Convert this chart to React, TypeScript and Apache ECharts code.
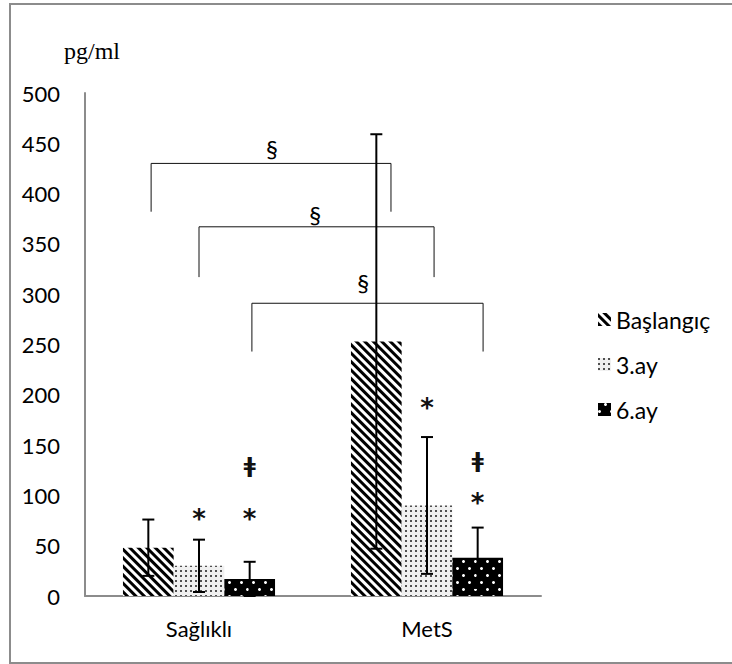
import React, { useEffect, useRef } from 'react';
import * as echarts from 'echarts';

const categories = ['Sağlıklı', 'MetS'];
const seriesNames = ['Başlangıç', '3.ay', '6.ay'];
const baslangic = [48, 253];
const ay3 = [30, 90];
const ay6 = [17, 38];
const errBaslangic = [28, 206];
const errAy3 = [26, 68];
const errAy6 = [17, 30];
const yMin = 0;
const yMax = 500;
const yInterval = 50;
const yUnit = 'pg/ml';

// significance marks: [categoryIndex, seriesIndex, value, symbol]
const marks: [number, number, number, string][] = [
  [0, 1, 83, '*'],
  [0, 2, 83, '*'],
  [0, 2, 130, 'ǂ'],
  [1, 1, 193, '*'],
  [1, 2, 98, '*'],
  [1, 2, 135, 'ǂ'],
];
// brackets between groups: [start, end (category units), top value, bottom value]
const brackets: [number, number, number, number][] = [
  [-0.21, 0.842, 430, 382],
  [0.0, 1.031, 367, 317],
  [0.232, 1.246, 291, 243],
];
// § labels: [x (category units), value]
const bracketLabels: [number, number][] = [
  [0.32, 445],
  [0.51, 379],
  [0.72, 312],
];

const FONT = 'Lato';
const BAR_GAP_RATIO = 1 / 3;
const BAR_W = (1 - BAR_GAP_RATIO) / 3;

export default function App() {
  const ref = useRef<HTMLDivElement>(null);
  useEffect(() => {
    if (!ref.current) return;
    const chart = echarts.init(ref.current, undefined, { renderer: 'svg' });
    const means = [baslangic, ay3, ay6];
    const errs = [errBaslangic, errAy3, errAy6];

    const decals: any[] = [
      { symbol: 'rect', color: '#000', dashArrayX: [1, 0], dashArrayY: [2.4, 2.2], rotation: Math.PI / 4, symbolSize: 1 },
      { symbol: 'rect', color: '#505050', dashArrayX: [2, 2.6], dashArrayY: [2, 2.6], symbolSize: 1 },
      { symbol: 'circle', color: '#fff', dashArrayX: [[2.6, 8.4], [0, 5.5, 2.6, 2.9]], dashArrayY: [2.6, 3.1], symbolSize: 1 },
    ];
    const baseColors = ['#fff', '#f0f0f0', '#000'];

    const barSeries = seriesNames.map((name, s) => ({
      name,
      type: 'bar',
      xAxisIndex: 0,
      yAxisIndex: 0,
      barGap: '0%',
      barCategoryGap: '33.3%',
      data: means[s],
      itemStyle: { color: baseColors[s], decal: decals[s] },
      emphasis: { disabled: true },
      silent: true,
    }));

    const errData: number[][] = [];
    means.forEach((arr, s) => {
      arr.forEach((m, c) => {
        errData.push([c + (s - 1) * BAR_W, m - errs[s][c], m + errs[s][c]]);
      });
    });

    const errorSeries = {
      type: 'custom',
      xAxisIndex: 1,
      yAxisIndex: 0,
      silent: true,
      data: errData,
      encode: { x: 0, y: [1, 2] },
      z: 5,
      renderItem: (params: any, api: any) => {
        const x = api.value(0);
        const lo = api.coord([x, api.value(1)]);
        const hi = api.coord([x, api.value(2)]);
        const cap = 6;
        const st = { stroke: '#000', lineWidth: 2 };
        return {
          type: 'group',
          children: [
            { type: 'line', shape: { x1: lo[0], y1: lo[1], x2: hi[0], y2: hi[1] }, style: st },
            { type: 'line', shape: { x1: hi[0] - cap, y1: hi[1], x2: hi[0] + cap, y2: hi[1] }, style: st },
            { type: 'line', shape: { x1: lo[0] - cap, y1: lo[1], x2: lo[0] + cap, y2: lo[1] }, style: st },
          ],
        };
      },
    };

    const markSeries = {
      type: 'custom',
      xAxisIndex: 1,
      yAxisIndex: 0,
      silent: true,
      z: 6,
      data: marks.map((m) => [m[0] + (m[1] - 1) * BAR_W, m[2]]),
      encode: { x: 0, y: 1 },
      renderItem: (params: any, api: any) => {
        const p = api.coord([api.value(0), api.value(1)]);
        const sym = marks[params.dataIndex][3];
        const isStar = sym === '*';
        return {
          type: 'text',
          x: p[0],
          y: p[1] + (isStar ? 6 : 0),
          style: {
            text: sym,
            fill: '#111',
            fontSize: isStar ? 26 : 22,
            fontWeight: 'bold',
            fontFamily: 'DejaVu Sans',
            align: 'center',
            verticalAlign: 'middle',
          },
        };
      },
    };

    const bracketSeries = brackets.map((b) => ({
      type: 'line',
      xAxisIndex: 1,
      yAxisIndex: 0,
      silent: true,
      symbol: 'none',
      z: 4,
      lineStyle: { color: '#111', width: 1 },
      data: [
        [b[0], b[3]],
        [b[0], b[2]],
        [b[1], b[2]],
        [b[1], b[3]],
      ],
    }));

    const sectionSeries = {
      type: 'custom',
      xAxisIndex: 1,
      yAxisIndex: 0,
      silent: true,
      z: 6,
      data: bracketLabels,
      encode: { x: 0, y: 1 },
      renderItem: (params: any, api: any) => {
        const p = api.coord([api.value(0), api.value(1)]);
        return {
          type: 'text',
          x: p[0],
          y: p[1],
          style: {
            text: '§',
            fill: '#000',
            fontSize: 24,
            fontFamily: FONT,
            align: 'center',
            verticalAlign: 'middle',
          },
        };
      },
    };

    chart.setOption({
      animation: false,
      backgroundColor: '#fff',
      grid: { left: 85, top: 93, right: 191, bottom: 68 },
      legend: {
        data: seriesNames,
        orient: 'vertical',
        left: 593,
        top: 303,
        itemWidth: 13,
        itemHeight: 13,
        itemGap: 22,
        icon: 'rect',
        selectedMode: false,
        textStyle: { fontFamily: FONT, fontSize: 23, color: '#000', padding: [0, 0, 0, 0] },
      },
      xAxis: [
        {
          type: 'category',
          data: categories,
          axisLine: { lineStyle: { color: '#8c8c8c', width: 2 } },
          axisTick: { show: false },
          axisLabel: { color: '#000', fontFamily: FONT, fontSize: 22, margin: 21 },
        },
        { type: 'value', min: -0.5, max: 1.5, show: false },
      ],
      yAxis: {
        type: 'value',
        min: yMin,
        max: yMax,
        interval: yInterval,
        axisLine: { show: true, onZero: false, lineStyle: { color: '#8c8c8c', width: 2 } },
        axisTick: { show: false },
        splitLine: { show: false },
        axisLabel: { color: '#000', fontFamily: FONT, fontSize: 22, margin: 25 },
      },
      graphic: [
        { type: 'rect', shape: { x: 10, y: 4, width: 740, height: 659 }, style: { fill: 'none', stroke: '#8c8c8c', lineWidth: 2 }, silent: true },
        { type: 'text', x: 64, y: 39, style: { text: yUnit, fontFamily: 'Liberation Serif', fontSize: 24, fill: '#000' } },
      ],
      series: [...barSeries, errorSeries, markSeries, ...bracketSeries, sectionSeries],
    });
    return () => chart.dispose();
  }, []);
  return <div ref={ref} style={{ position: 'fixed', left: 0, top: 0, width: 732, height: 664, background: '#fff' }} />;
}
